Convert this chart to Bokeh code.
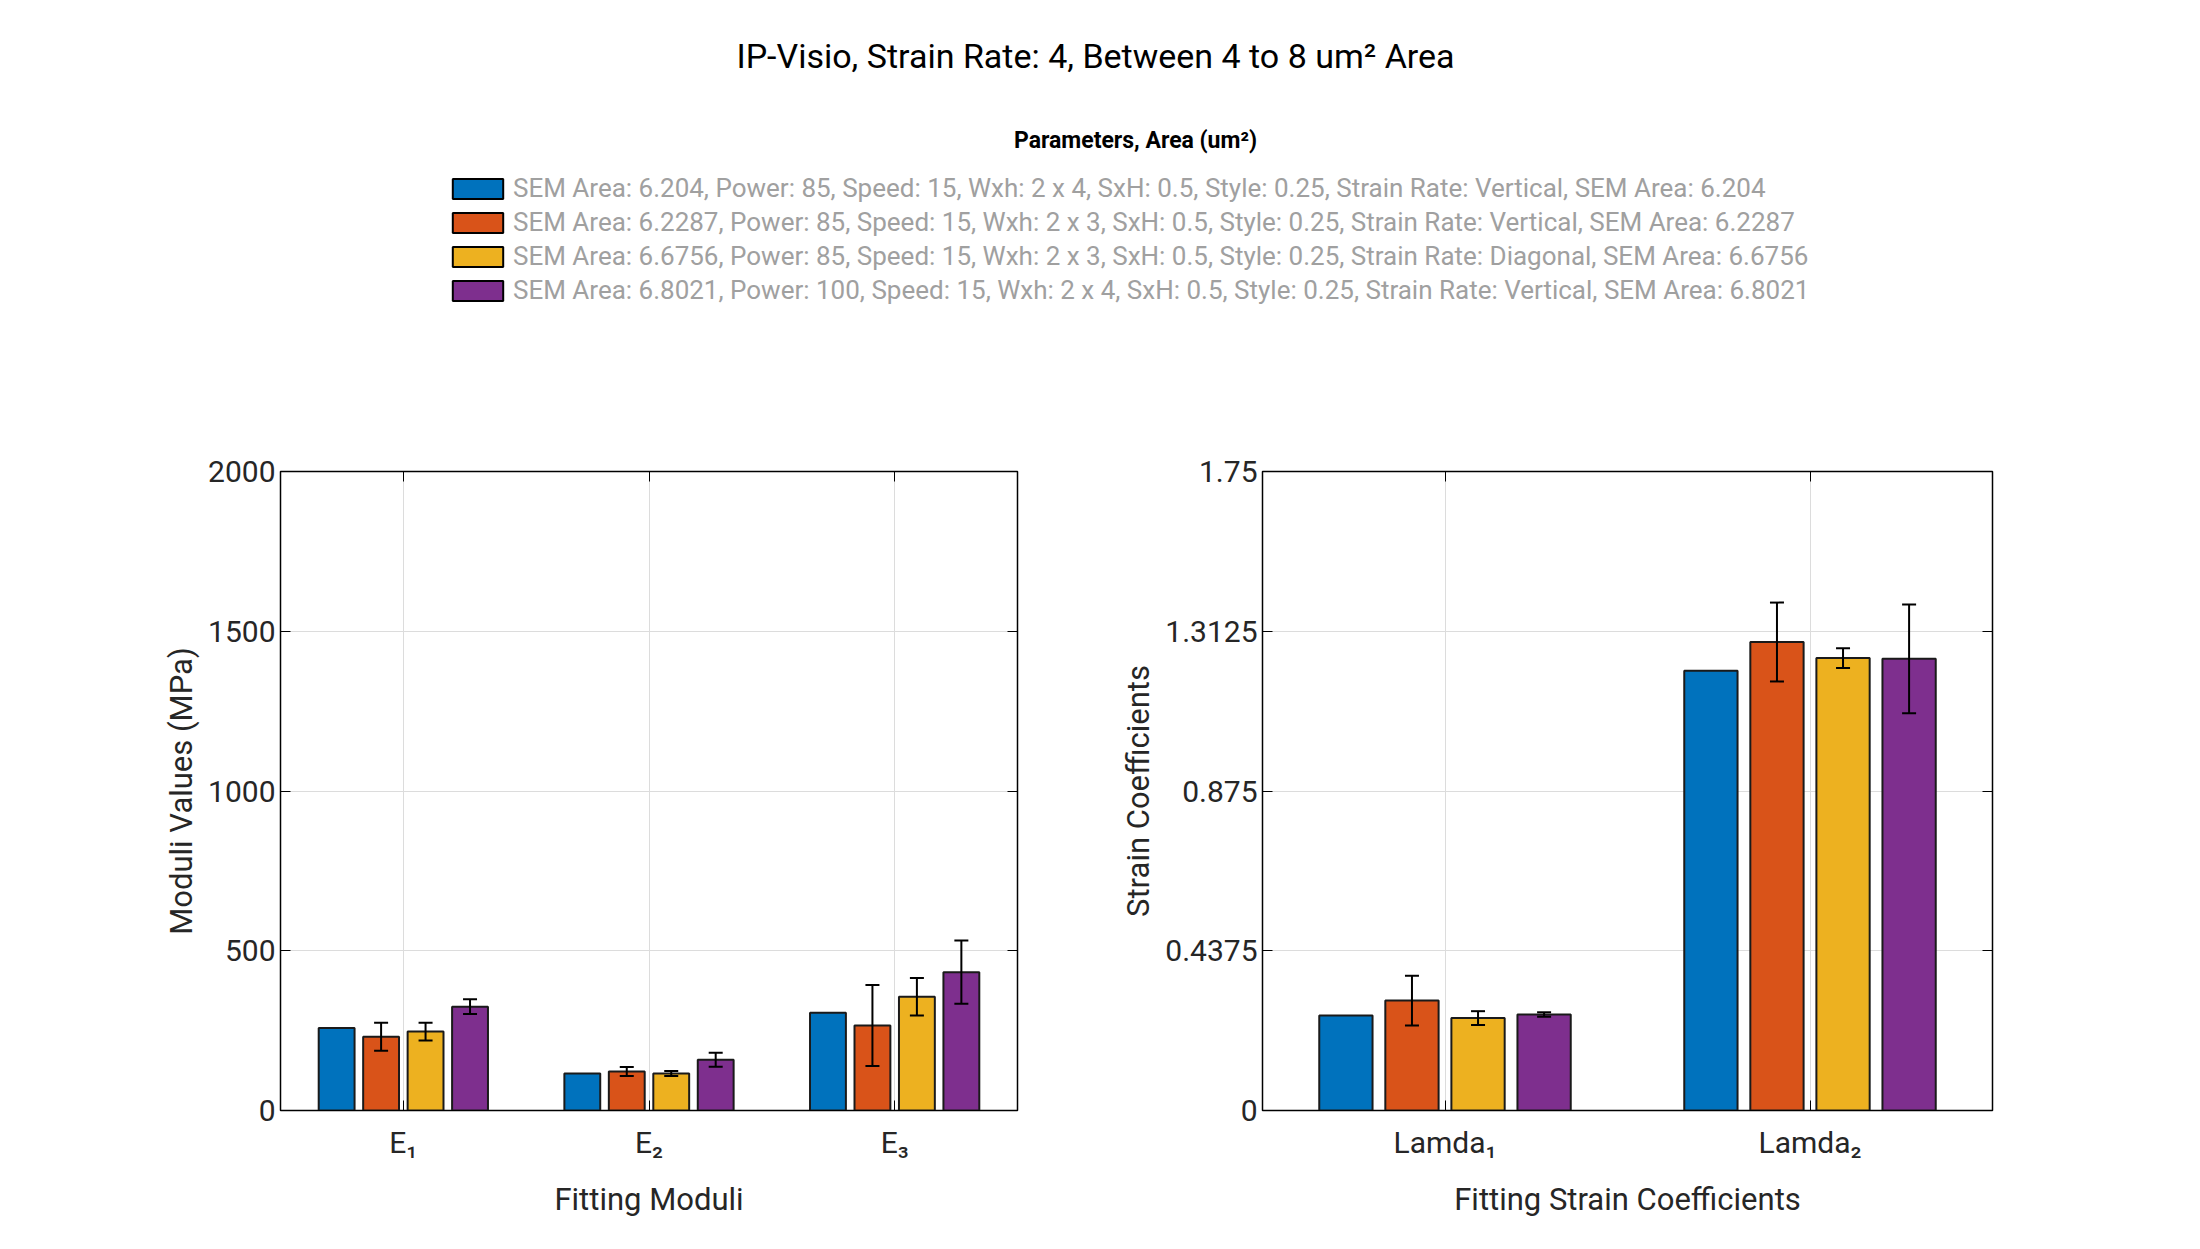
from bokeh.plotting import figure
from bokeh.models import (ColumnDataSource, Whisker, TeeHead, FixedTicker, LinearAxis,
                          Legend, LegendItem, Range1d)
from bokeh.layouts import column, row
from bokeh.embed import file_html
from bokeh.resources import INLINE
from bokeh.core.properties import value

title = "IP-Visio, Strain Rate: 4, Between 4 to 8 um\u00b2 Area"
legend_title = "Parameters, Area (um\u00b2)"
series_labels = [
    "SEM Area: 6.204, Power: 85, Speed: 15, Wxh: 2 x 4, SxH: 0.5, Style: 0.25, Strain Rate: Vertical, SEM Area: 6.204",
    "SEM Area: 6.2287, Power: 85, Speed: 15, Wxh: 2 x 3, SxH: 0.5, Style: 0.25, Strain Rate: Vertical, SEM Area: 6.2287",
    "SEM Area: 6.6756, Power: 85, Speed: 15, Wxh: 2 x 3, SxH: 0.5, Style: 0.25, Strain Rate: Diagonal, SEM Area: 6.6756",
    "SEM Area: 6.8021, Power: 100, Speed: 15, Wxh: 2 x 4, SxH: 0.5, Style: 0.25, Strain Rate: Vertical, SEM Area: 6.8021",
]
colors = ["#0072BD", "#D95319", "#EDB120", "#7E2F8E"]

moduli_cats = ["E\u2081", "E\u2082", "E\u2083"]
moduli_vals = [[258, 116, 306], [231, 122, 266], [247, 116, 356], [325, 159, 433]]
moduli_err = [[0, 0, 0], [44, 14, 127], [28, 8, 59], [23, 22, 99]]

strain_cats = ["Lamda\u2081", "Lamda\u2082"]
strain_vals = [[0.260, 1.204], [0.301, 1.283], [0.253, 1.239], [0.263, 1.237]]
strain_err = [[0, 0], [0.068, 0.108], [0.019, 0.027], [0.006, 0.149]]

FONT = "Roboto"
BW = 0.146
OFF = 0.181

def make_panel(cats, vals, errs, ymax, yticks, ylabel, xlabel, bl, br, fw):
    n = len(cats)
    p = figure(width=bl + fw + br, height=41 + 639 + 110, output_backend="svg",
               toolbar_location=None, x_range=Range1d(0.5, n + 0.5),
               y_range=Range1d(0, ymax), min_border_left=bl, min_border_right=br,
               min_border_top=41, min_border_bottom=110)
    p.outline_line_color = "black"
    p.outline_line_width = 1.5
    for i in range(4):
        xs = [j + 1 + (i - 1.5) * OFF for j in range(n)]
        src = ColumnDataSource(dict(x=xs, top=vals[i],
                                    up=[v + e for v, e in zip(vals[i], errs[i])],
                                    lo=[v - e for v, e in zip(vals[i], errs[i])],
                                    e=errs[i]))
        p.vbar(x="x", top="top", width=BW, source=src, fill_color=colors[i],
               line_color="#1a1a1a", line_width=2)
        if any(errs[i]):
            w = Whisker(base="x", upper="up", lower="lo", source=src, level="overlay",
                        line_color="black", line_width=2,
                        upper_head=TeeHead(size=14, line_color="black", line_width=2),
                        lower_head=TeeHead(size=14, line_color="black", line_width=2))
            p.add_layout(w)
    p.xaxis.ticker = FixedTicker(ticks=list(range(1, n + 1)))
    p.xaxis.major_label_overrides = {j + 1: c for j, c in enumerate(cats)}
    p.yaxis.ticker = FixedTicker(ticks=yticks)
    p.yaxis.major_label_overrides = {t: (("%g" % t)) for t in yticks}
    for ax in (p.xaxis[0], p.yaxis[0]):
        ax.major_tick_in = 10
        ax.major_tick_out = 0
        ax.minor_tick_line_color = None
        ax.axis_line_color = "black"
        ax.major_label_text_font = FONT
        ax.major_label_text_font_size = "30px"
        ax.major_label_text_color = "#262626"
        ax.axis_label_text_font = FONT
        ax.axis_label_text_font_size = "31px"
        ax.axis_label_text_font_style = "normal"
        ax.axis_label_text_color = "#262626"
    p.xaxis.axis_label = xlabel
    p.yaxis.axis_label = ylabel
    p.xaxis.major_label_standoff = 14
    p.xaxis.axis_label_standoff = 18
    for loc, tk in (("right", p.yaxis.ticker), ("above", p.xaxis.ticker)):
        ax = LinearAxis(ticker=tk, major_label_text_font_size="0px",
                        major_tick_in=10, major_tick_out=0,
                        minor_tick_line_color=None, axis_line_color="black")
        p.add_layout(ax, loc)
    p.grid.grid_line_color = "#dcdcdc"
    p.grid.grid_line_width = 1
    return p

p1 = make_panel(moduli_cats, moduli_vals, moduli_err, 2000, [0, 500, 1000, 1500, 2000],
                "Moduli Values (MPa)", "Fitting Moduli", 280, 100, 737)
p2 = make_panel(strain_cats, strain_vals, strain_err, 1.75, [0, 0.4375, 0.875, 1.3125, 1.75],
                "Strain Coefficients", "Fitting Strain Coefficients", 134, 50, 741)

HW, HH = 2042, 430
hdr = figure(width=HW, height=HH, output_backend="svg", toolbar_location=None,
             x_range=Range1d(0, HW), y_range=Range1d(0, HH), min_border=0)
hdr.axis.visible = False
hdr.grid.visible = False
hdr.outline_line_color = None
hdr.text(x=[1095], y=[HH - 55], text=[title], text_align="center",
         text_baseline="middle", text_font=value(FONT), text_font_size="34px",
         text_color="black")
hdr.text(x=[1135], y=[HH - 140], text=[legend_title], text_align="center",
         text_baseline="middle", text_font=value(FONT), text_font_size="23px",
         text_font_style="bold", text_color="black")
items = []
for i in range(4):
    r = hdr.rect(x=[-1000], y=[-1000], width=1, height=1, fill_color=colors[i],
                 line_color="black", line_width=2)
    items.append(LegendItem(label=series_labels[i], renderers=[r]))
leg = Legend(items=items, location=(446, HH - 170 - 136), padding=0, spacing=2, margin=0,
             glyph_width=63, glyph_height=25, label_height=32, label_standoff=4,
             label_text_font=FONT, label_text_font_size="26px",
             label_text_color="#a0a0a0", border_line_color=None,
             background_fill_alpha=0)
hdr.add_layout(leg)

layout = column(hdr, row(p1, p2, spacing=0), spacing=0)
open("out.html", "w").write(file_html(layout, INLINE))
